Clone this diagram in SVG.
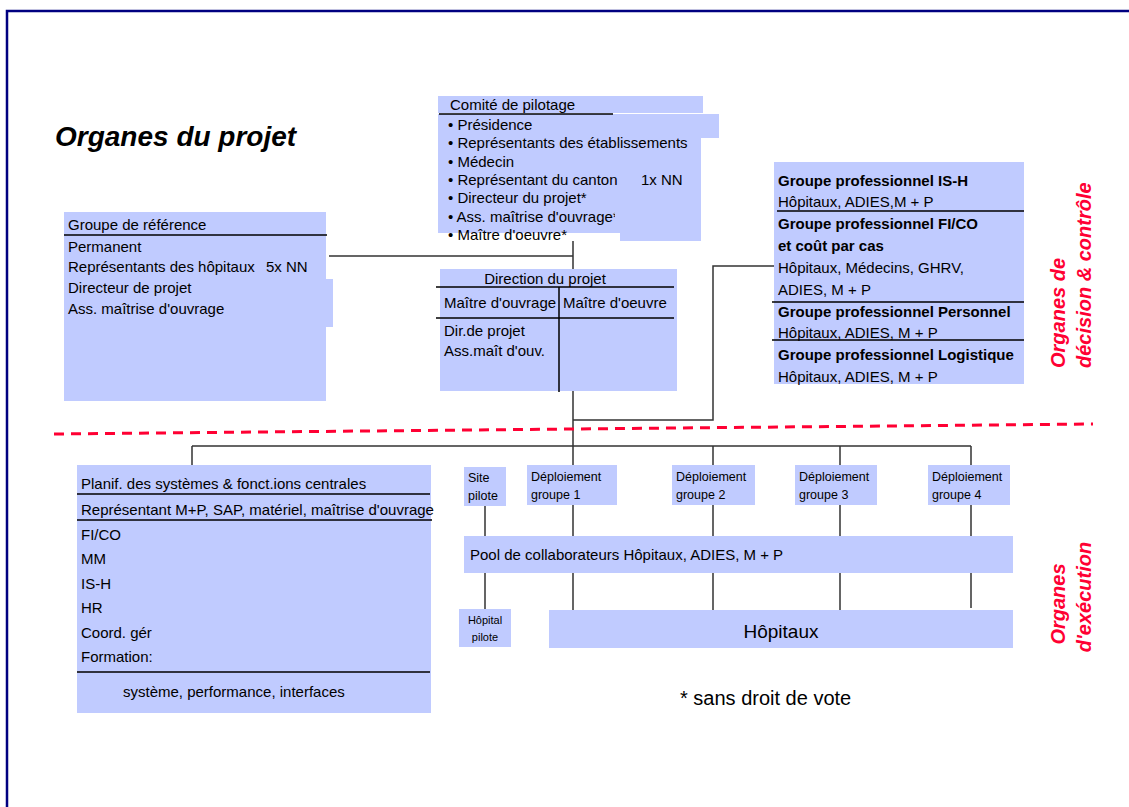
<svg xmlns="http://www.w3.org/2000/svg" width="1129" height="807" viewBox="0 0 1129 807">
  <defs>
    <style>
      .box { fill: #c0cbff; }
      .t { font-family: "Liberation Sans", Arial, sans-serif; font-size: 15px; fill: #000; }
      .b { font-weight: bold; }
      .s12 { font-size: 12.5px; }
      .s11 { font-size: 11px; }
      .sep { stroke: #000; stroke-width: 1.5; fill: none; }
      .conn { stroke: #333; stroke-width: 1.5; fill: none; }
      .red { font-family: "Liberation Sans", Arial, sans-serif; font-size: 20px; font-weight: bold; font-style: italic; fill: #ff0033; }
    </style>
    <clipPath id="clipAss">
      <rect x="430" y="200" width="185" height="40"/>
    </clipPath>
  </defs>

  <rect width="1129" height="807" fill="#fff"/>
  <!-- page frame -->
  <path d="M7 807V11H1129" fill="none" stroke="#000080" stroke-width="2.5"/>

  <text class="t b" x="55" y="146" style="font-size:28px;font-style:italic">Organes du projet</text>

  <!-- connectors -->
  <g id="connectors">
    <path class="conn" d="M329 256H573M573 241V269M573 391V446M573 420H713V266H774"/>
    <path class="conn" d="M192 446H971M192 446V465M573 446V465M713 446V465M840 446V465M971 446V465"/>
    <path class="conn" d="M485 506V536M573 505V536M713 505V536M840 505V536M971 505V536"/>
    <path class="conn" d="M485 573V609M573 573V610M713 573V610M840 573V610M971 573V608"/>
    <!-- boundary between decision and execution levels -->
    <path d="M54 434L1093 424" stroke="#ff0033" stroke-width="3" stroke-dasharray="10 7" fill="none"/>
  </g>

  <!-- Comité de pilotage -->
  <g id="comite">
    <rect class="box" x="438" y="96" width="265" height="17"/>
    <path class="box" d="M438 114H719V138H701V241H620V233H438Z"/>
    <path class="sep" d="M439 114H613"/>
    <text class="t" x="450" y="110">Comité de pilotage</text>
    <text class="t" x="448" y="130">• Présidence</text>
    <text class="t" x="448" y="148">• Représentants des établissements</text>
    <text class="t" x="448" y="167">• Médecin</text>
    <text class="t" x="448" y="185">• Représentant du canton<tspan x="641">1x NN</tspan></text>
    <text class="t" x="448" y="203">• Directeur du projet*</text>
    <text class="t" x="448" y="222" clip-path="url(#clipAss)">• Ass. maîtrise d'ouvrage*</text>
    <text class="t" x="448" y="240">• Maître d'oeuvre*</text>
  </g>

  <!-- Groupe de référence -->
  <g id="groupe-reference">
    <path class="box" d="M64 212H326V279H333V327H326V401H64Z"/>
    <path class="sep" d="M64 235H327"/>
    <text class="t" x="68" y="230">Groupe de référence</text>
    <text class="t" x="68" y="252">Permanent</text>
    <text class="t" x="68" y="272">Représentants des hôpitaux<tspan x="266">5x NN</tspan></text>
    <text class="t" x="68" y="293">Directeur de projet</text>
    <text class="t" x="68" y="314">Ass. maîtrise d'ouvrage</text>
  </g>

  <!-- Direction du projet -->
  <g id="direction">
    <rect class="box" x="440" y="269" width="237" height="122"/>
    <path class="sep" d="M436 287H674M436 318H674M559 287V392"/>
    <text class="t" x="545" y="284" text-anchor="middle">Direction du projet</text>
    <text class="t" x="444" y="308">Maître d'ouvrage</text>
    <text class="t" x="563" y="308">Maître d'oeuvre</text>
    <text class="t" x="444" y="336">Dir.de projet</text>
    <text class="t" x="444" y="356">Ass.maît d'ouv.</text>
  </g>

  <!-- Groupes professionnels -->
  <g id="groupes-professionnels">
    <rect class="box" x="774" y="162" width="250" height="222"/>
    <path class="sep" d="M777 211H1024M772 302H1024M772 340H1024"/>
    <text class="t b" x="778" y="186">Groupe professionnel IS-H</text>
    <text class="t" x="778" y="207">Hôpitaux, ADIES,M + P</text>
    <text class="t b" x="778" y="229">Groupe professionnel FI/CO</text>
    <text class="t b" x="778" y="251">et coût par cas</text>
    <text class="t" x="778" y="273">Hôpitaux, Médecins, GHRV,</text>
    <text class="t" x="778" y="295">ADIES, M + P</text>
    <text class="t b" x="778" y="317">Groupe professionnel Personnel</text>
    <text class="t" x="778" y="338">Hôpitaux, ADIES, M + P</text>
    <text class="t b" x="778" y="360">Groupe professionnel Logistique</text>
    <text class="t" x="778" y="382">Hôpitaux, ADIES, M + P</text>
  </g>

  <!-- side labels -->
  <g id="label-decision">
    <text class="red" transform="translate(1065 368) rotate(-90)">Organes de</text>
    <text class="red" transform="translate(1091 368) rotate(-90)">décision &amp; contrôle</text>
  </g>
  <g id="label-execution">
    <text class="red" text-anchor="middle" transform="translate(1065 604) rotate(-90)">Organes</text>
    <text class="red" text-anchor="middle" transform="translate(1091 597) rotate(-90)">d'exécution</text>
  </g>

  <!-- Planification des systèmes -->
  <g id="planification">
    <rect class="box" x="77" y="465" width="354" height="248"/>
    <path class="sep" d="M77 494H430M77 520H432M77 672H430"/>
    <text class="t" x="81" y="489">Planif. des systèmes &amp; fonct.ions centrales</text>
    <text class="t" x="81" y="515">Représentant M+P, SAP, matériel, maîtrise d'ouvrage</text>
    <text class="t" x="81" y="540">FI/CO</text>
    <text class="t" x="81" y="564">MM</text>
    <text class="t" x="81" y="589">IS-H</text>
    <text class="t" x="81" y="613">HR</text>
    <text class="t" x="81" y="638">Coord. gér</text>
    <text class="t" x="81" y="662">Formation:</text>
    <text class="t" x="123" y="697">système, performance, interfaces</text>
  </g>

  <!-- Déploiement -->
  <g id="site-pilote">
    <rect class="box" x="464" y="467" width="42" height="39"/>
    <text class="t s12" x="468" y="482">Site</text>
    <text class="t s12" x="468" y="500">pilote</text>
  </g>
  <g id="deploiement-1">
    <rect class="box" x="527" y="465" width="90" height="40"/>
    <text class="t s12" x="531" y="481">Déploiement</text>
    <text class="t s12" x="531" y="499">groupe 1</text>
  </g>
  <g id="deploiement-2">
    <rect class="box" x="672" y="465" width="83" height="40"/>
    <text class="t s12" x="676" y="481">Déploiement</text>
    <text class="t s12" x="676" y="499">groupe 2</text>
  </g>
  <g id="deploiement-3">
    <rect class="box" x="795" y="465" width="82" height="40"/>
    <text class="t s12" x="799" y="481">Déploiement</text>
    <text class="t s12" x="799" y="499">groupe 3</text>
  </g>
  <g id="deploiement-4">
    <rect class="box" x="928" y="465" width="82" height="40"/>
    <text class="t s12" x="932" y="481">Déploiement</text>
    <text class="t s12" x="932" y="499">groupe 4</text>
  </g>

  <g id="pool">
    <rect class="box" x="464" y="536" width="549" height="37"/>
    <text class="t" x="470" y="560">Pool de collaborateurs Hôpitaux, ADIES, M + P</text>
  </g>

  <g id="hopital-pilote">
    <rect class="box" x="459" y="609" width="52" height="38"/>
    <text class="t s11" x="485" y="624" text-anchor="middle">Hôpital</text>
    <text class="t s11" x="485" y="641" text-anchor="middle">pilote</text>
  </g>
  <g id="hopitaux">
    <rect class="box" x="549" y="610" width="464" height="38"/>
    <text class="t" x="781" y="638" text-anchor="middle" style="font-size:19px">Hôpitaux</text>
  </g>

  <text class="t" x="680" y="705" style="font-size:20px">* sans droit de vote</text>
</svg>
